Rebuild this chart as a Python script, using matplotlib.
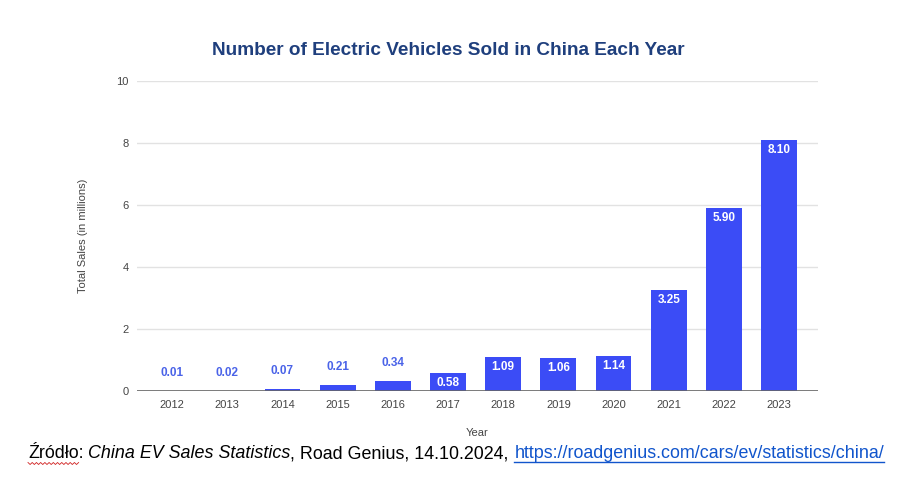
import numpy as np
import matplotlib
matplotlib.use('Agg')
import matplotlib.pyplot as plt

matplotlib.rcParams['font.family'] = ['Liberation Sans', 'DejaVu Sans']

# data
years = ['2012', '2013', '2014', '2015', '2016', '2017',
         '2018', '2019', '2020', '2021', '2022', '2023']
sales = [0.01, 0.02, 0.07, 0.21, 0.34, 0.58, 1.09, 1.06, 1.14, 3.25, 5.90, 8.10]
yticks = [0, 2, 4, 6, 8, 10]

bar_color = '#3b4cf6'

fig = plt.figure(figsize=(9.24, 4.8), dpi=100)
ax = fig.add_axes([0.148, 0.185, 0.737, 0.646])

x = np.arange(len(years))
bars = ax.bar(x, sales, width=0.65, color=bar_color, zorder=3)

ax.set_xlim(-0.64, len(years) - 1 + 0.7)
ax.set_ylim(0, 10)
ax.set_yticks(yticks)
ax.set_yticklabels([str(t) for t in yticks])
ax.set_xticks(x)
ax.set_xticklabels(years)
ax.tick_params(length=0, labelsize=8, labelcolor='#444444', pad=6)
ax.tick_params(axis='y', pad=6)
for s in ax.spines.values():
    s.set_visible(False)
ax.grid(axis='y', color='#e2e2e2', linewidth=1, zorder=0)
ax.axhline(0, color='#666666', linewidth=1.2, zorder=4)

# value labels: above small bars, inside tall ones
for xi, v in zip(x, sales):
    if v < 0.5:
        ax.annotate('%.2f' % v, (xi, v), xytext=(0, 13), textcoords='offset points',
                    ha='center', va='center', fontsize=8.5, fontweight='bold',
                    color='#4a63e8', zorder=5)
    else:
        ax.annotate('%.2f' % v, (xi, v), xytext=(0, -7), textcoords='offset points',
                    ha='center', va='center', fontsize=8.5, fontweight='bold',
                    color='white', zorder=5)

ax.set_ylabel('Total Sales (in millions)', fontsize=8, color='#444444')
ax.yaxis.set_label_coords(-0.072, 0.5)
ax.set_xlabel('Year', fontsize=8, color='#444444')
ax.xaxis.set_label_coords(0.5, -0.12)

fig.text(0.485, 0.895, 'Number of Electric Vehicles Sold in China Each Year',
         ha='center', va='center', fontsize=13.7, fontweight='bold', color='#1f3f7d')

# source line, pieced together
renderer = fig.canvas.get_renderer()
fs = 12.9
parts = [('Źródło:', 'normal', 'black', False, 4),
         ('China EV Sales Statistics', 'italic', 'black', False, 0),
         (', Road Genius, 14.10.2024,', 'normal', 'black', False, 6),
         ('https://roadgenius.com/cars/ev/statistics/china/', 'normal', '#1155cc', True, 0)]
xpos = 28
ypos = 480 - 454
for txt, style, col, under, gap in parts:
    t = fig.text(xpos / 924, ypos / 480, txt, fontsize=fs, style=style, color=col,
                 ha='left', va='center', transform=fig.transFigure)
    bb = t.get_window_extent(renderer)
    if under:
        fig.add_artist(plt.Line2D([bb.x0 / 924, bb.x1 / 924],
                                  [(bb.y0 + 1) / 480, (bb.y0 + 1) / 480],
                                  color=col, linewidth=1, transform=fig.transFigure))
    if txt.startswith('Źródło'):
        # spell-check squiggle under the word
        w = fig.text(0, 0, 'Źródło', fontsize=fs)
        ww = w.get_window_extent(renderer).width
        w.remove()
        n = int(ww / 2)
        xs = np.linspace(bb.x0, bb.x0 + ww, n)
        ys = bb.y0 - 1 + 1.0 * np.where(np.arange(n) % 2 == 0, 1, -1)
        fig.add_artist(plt.Line2D(xs / 924, ys / 480, color='#d02020', linewidth=0.6,
                                  transform=fig.transFigure))
    xpos = bb.x1 + gap

fig.savefig('out.png', dpi=100)
